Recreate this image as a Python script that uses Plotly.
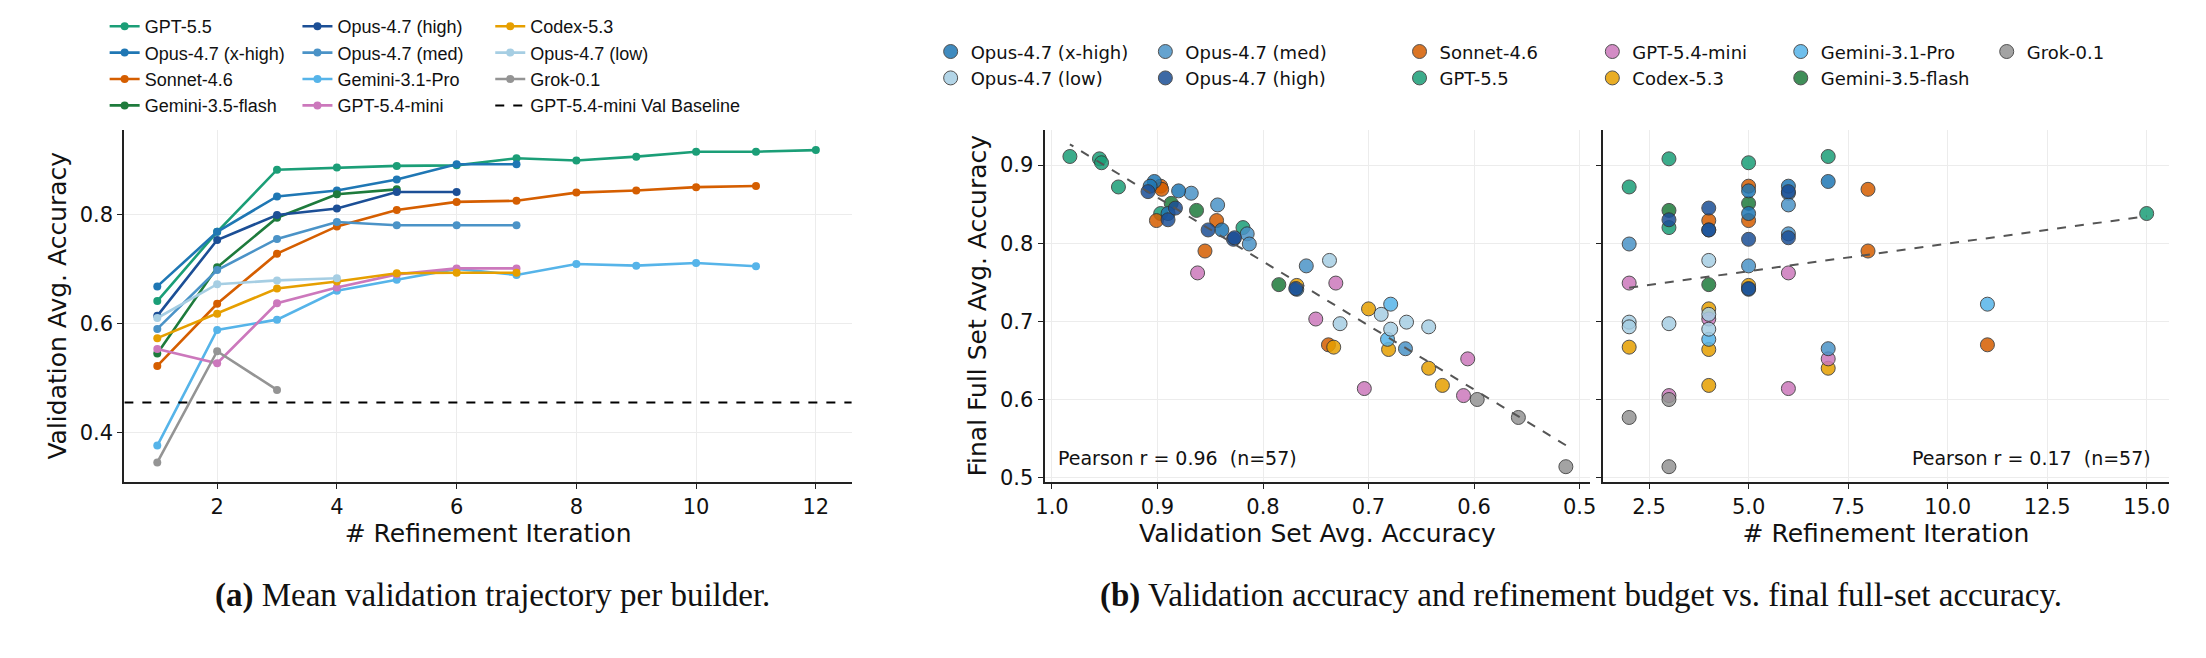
import numpy as np
import plotly
import plotly.subplots
import plotly.graph_objs as go

builders = ["GPT-5.5", "Opus-4.7 (x-high)", "Sonnet-4.6", "Gemini-3.5-flash",
            "Opus-4.7 (high)", "Opus-4.7 (med)", "Gemini-3.1-Pro", "GPT-5.4-mini",
            "Codex-5.3", "Opus-4.7 (low)", "Grok-0.1"]
colors = {
    "GPT-5.5": "#1b9e77", "Opus-4.7 (x-high)": "#1f77b4", "Sonnet-4.6": "#d55e00",
    "Gemini-3.5-flash": "#1e7b3c", "Opus-4.7 (high)": "#1c4f96", "Opus-4.7 (med)": "#4b93c7",
    "Gemini-3.1-Pro": "#56b4e9", "GPT-5.4-mini": "#cc78bc", "Codex-5.3": "#e69f00",
    "Opus-4.7 (low)": "#a6cee3", "Grok-0.1": "#949494",
}

# mean validation accuracy per refinement iteration (starting at 1)
trajectories = {
    "GPT-5.5": [0.641, 0.768, 0.882, 0.886, 0.889, 0.890, 0.903, 0.899, 0.906, 0.915, 0.915, 0.918],
    "Opus-4.7 (x-high)": [0.668, 0.768, 0.833, 0.844, 0.864, 0.892, 0.892],
    "Sonnet-4.6": [0.522, 0.636, 0.728, 0.778, 0.808, 0.823, 0.825, 0.840, 0.844, 0.850, 0.852],
    "Gemini-3.5-flash": [0.545, 0.703, 0.794, 0.837, 0.846],
    "Opus-4.7 (high)": [0.614, 0.753, 0.799, 0.811, 0.841, 0.841],
    "Opus-4.7 (med)": [0.590, 0.698, 0.755, 0.786, 0.780, 0.780, 0.780],
    "Gemini-3.1-Pro": [0.376, 0.588, 0.607, 0.660, 0.680, 0.700, 0.689, 0.709, 0.706, 0.711, 0.705],
    "GPT-5.4-mini": [0.553, 0.527, 0.637, 0.666, 0.690, 0.701, 0.701],
    "Codex-5.3": [0.573, 0.618, 0.664, 0.677, 0.692, 0.693, 0.693],
    "Opus-4.7 (low)": [0.610, 0.672, 0.679, 0.683],
    "Grok-0.1": [0.345, 0.549, 0.478],
}
baseline = 0.455

# per run: validation accuracy, final full-set accuracy, refinement iterations
val_acc = {
    "GPT-5.5": [0.983, 0.955, 0.953, 0.937, 0.897, 0.819],
    "Gemini-3.5-flash": [0.887, 0.863, 0.785],
    "Sonnet-4.6": [0.897, 0.896, 0.901, 0.844, 0.855, 0.738],
    "Codex-5.3": [0.768, 0.733, 0.700, 0.681, 0.643, 0.630],
    "GPT-5.4-mini": [0.862, 0.750, 0.731, 0.704, 0.606, 0.610],
    "Grok-0.1": [0.597, 0.558, 0.513],
    "Gemini-3.1-Pro": [0.679, 0.682],
    "Opus-4.7 (low)": [0.737, 0.727, 0.688, 0.679, 0.664, 0.643],
    "Opus-4.7 (med)": [0.868, 0.843, 0.815, 0.813, 0.759, 0.665],
    "Opus-4.7 (x-high)": [0.903, 0.907, 0.880, 0.890, 0.839, 0.768],
    "Opus-4.7 (high)": [0.909, 0.883, 0.890, 0.852, 0.828, 0.827, 0.769],
}
full_acc = {
    "GPT-5.5": [0.911, 0.908, 0.903, 0.872, 0.838, 0.820],
    "Gemini-3.5-flash": [0.851, 0.842, 0.747],
    "Sonnet-4.6": [0.873, 0.869, 0.829, 0.829, 0.790, 0.670],
    "Codex-5.3": [0.746, 0.667, 0.716, 0.664, 0.640, 0.618],
    "GPT-5.4-mini": [0.762, 0.703, 0.749, 0.614, 0.652, 0.605],
    "Grok-0.1": [0.600, 0.577, 0.514],
    "Gemini-3.1-Pro": [0.722, 0.677],
    "Opus-4.7 (low)": [0.778, 0.697, 0.709, 0.690, 0.699, 0.693],
    "Opus-4.7 (med)": [0.864, 0.849, 0.812, 0.799, 0.771, 0.665],
    "Opus-4.7 (x-high)": [0.879, 0.873, 0.867, 0.838, 0.817, 0.741],
    "Opus-4.7 (high)": [0.866, 0.845, 0.830, 0.817, 0.805, 0.807, 0.742],
}
iterations = {
    "GPT-5.5": [7, 3, 5, 2, 15, 3],
    "Gemini-3.5-flash": [5, 3, 4],
    "Sonnet-4.6": [5, 8, 4, 5, 8, 11],
    "Codex-5.3": [5, 2, 4, 4, 7, 4],
    "GPT-5.4-mini": [6, 4, 2, 6, 7, 3],
    "Grok-0.1": [3, 2, 3],
    "Gemini-3.1-Pro": [11, 4],
    "Opus-4.7 (low)": [4, 3, 4, 4, 2, 2],
    "Opus-4.7 (med)": [6, 6, 6, 2, 5, 7],
    "Opus-4.7 (x-high)": [7, 6, 5, 5, 4, 5],
    "Opus-4.7 (high)": [6, 4, 3, 4, 5, 6, 5],
}

left_columns = [["GPT-5.5", "Opus-4.7 (x-high)", "Sonnet-4.6", "Gemini-3.5-flash"],
                ["Opus-4.7 (high)", "Opus-4.7 (med)", "Gemini-3.1-Pro", "GPT-5.4-mini"],
                ["Codex-5.3", "Opus-4.7 (low)", "Grok-0.1", "baseline"]]
right_columns = [["Opus-4.7 (x-high)", "Opus-4.7 (low)"], ["Opus-4.7 (med)", "Opus-4.7 (high)"],
                 ["Sonnet-4.6", "GPT-5.5"], ["GPT-5.4-mini", "Codex-5.3"],
                 ["Gemini-3.1-Pro", "Gemini-3.5-flash"], ["Grok-0.1"]]
left_x = [0.040, 0.128, 0.216]
right_x = [0.417, 0.515, 0.631, 0.719, 0.805, 0.899]

FONT = "DejaVu Sans"
LEGEND_FONT = "Liberation Sans"


def legend_name(columns, name, offset):
    """Which legend a builder goes to"""
    for i, col in enumerate(columns):
        if name in col:
            return "legend" if i + offset == 0 else "legend%d" % (i + offset + 1)


def build():
    figure = plotly.subplots.make_subplots(rows=1, cols=3)
    # (a) trajectories
    for name in builders:
        y = trajectories[name]
        figure.add_trace(go.Scatter(x=list(range(1, len(y) + 1)), y=y, mode="lines+markers",
                                    name=name, line=dict(color=colors[name], width=2.6),
                                    marker=dict(size=8, color=colors[name]),
                                    legend=legend_name(left_columns, name, 0),
                                    legendrank=left_columns[[name in c for c in left_columns].index(True)].index(name)),
                         row=1, col=1)
    figure.add_trace(go.Scatter(x=[0.45, 12.6], y=[baseline, baseline], mode="lines",
                                name="GPT-5.4-mini Val Baseline", line=dict(color="black", width=2, dash="dash"),
                                legend="legend3", legendrank=3), row=1, col=1)
    # (b) scatters
    all_val, all_full, all_it = [], [], []
    for name in val_acc:
        lg = legend_name(right_columns, name, 3)
        rank = right_columns[[name in c for c in right_columns].index(True)].index(name)
        mk = dict(size=14, color=colors[name], opacity=0.85, line=dict(color="#333333", width=1))
        figure.add_trace(go.Scatter(x=val_acc[name], y=full_acc[name], mode="markers", name=name,
                                    marker=mk, legend=lg, legendrank=rank), row=1, col=2)
        figure.add_trace(go.Scatter(x=iterations[name], y=full_acc[name], mode="markers", name=name,
                                    marker=mk, showlegend=False), row=1, col=3)
        all_val += val_acc[name]
        all_full += full_acc[name]
        all_it += iterations[name]
    for col, xs, lo, hi in [(2, all_val, min(all_val), max(all_val)), (3, all_it, 2, 15)]:
        k, b = np.polyfit(xs, all_full, 1)
        figure.add_trace(go.Scatter(x=[lo, hi], y=[k * lo + b, k * hi + b], mode="lines", showlegend=False,
                                    line=dict(color="#555555", width=2, dash="dash")), row=1, col=col)

    axis = dict(showline=True, linecolor="#222222", linewidth=2, ticks="outside", ticklen=5,
                tickcolor="#222222", showgrid=True, gridcolor="#ececec", zeroline=False,
                tickfont=dict(size=21, color="#111111"), mirror=False)
    title_font = dict(size=25)
    figure.update_xaxes(**axis)
    figure.update_yaxes(**axis)
    figure.update_xaxes(domain=[0.049, 0.381], range=[0.45, 12.6], tickvals=[2, 4, 6, 8, 10, 12],
                        title=dict(text="# Refinement Iteration", font=title_font, standoff=4), row=1, col=1)
    figure.update_yaxes(domain=[0.274, 0.82], range=[0.31, 0.955], tickvals=[0.4, 0.6, 0.8],
                        title=dict(text="Validation Avg. Accuracy", font=title_font, standoff=6), row=1, col=1)
    figure.update_xaxes(domain=[0.469, 0.718], range=[1.007, 0.49], tickvals=[1.0, 0.9, 0.8, 0.7, 0.6, 0.5],
                        tickformat=".1f",
                        title=dict(text="Validation Set Avg. Accuracy", font=title_font, standoff=4), row=1, col=2)
    figure.update_yaxes(domain=[0.274, 0.82], range=[0.495, 0.945], tickvals=[0.5, 0.6, 0.7, 0.8, 0.9],
                        title=dict(text="Final Full Set Avg. Accuracy", font=title_font, standoff=6), row=1, col=2)
    figure.update_xaxes(domain=[0.724, 0.982], range=[1.35, 15.55], tickvals=[2.5, 5, 7.5, 10, 12.5, 15],
                        tickformat=".1f",
                        title=dict(text="# Refinement Iteration", font=title_font, standoff=4), row=1, col=3)
    figure.update_yaxes(domain=[0.274, 0.82], range=[0.495, 0.945], tickvals=[0.5, 0.6, 0.7, 0.8, 0.9],
                        showticklabels=False, row=1, col=3)

    legends = {}
    for i, x in enumerate(left_x):
        legends["legend" if i == 0 else "legend%d" % (i + 1)] = dict(x=x, y=1.01, yanchor="top",
                                                                      font=dict(size=18, family=LEGEND_FONT))
    for i, x in enumerate(right_x):
        legends["legend%d" % (i + 4)] = dict(x=x, y=0.97, yanchor="top", font=dict(size=18, family=FONT))
    for key, lg in legends.items():
        lg.update(xanchor="left", bgcolor="rgba(0,0,0,0)", tracegroupgap=0, itemwidth=30)
        figure.update_layout(**{key: lg})

    figure.add_annotation(x=0.474, y=0.29, xref="paper", yref="paper", xanchor="left", yanchor="bottom",
                          text="Pearson r = 0.96  (n=57)", showarrow=False, font=dict(size=19, color="#111111"))
    figure.add_annotation(x=0.975, y=0.29, xref="paper", yref="paper", xanchor="right", yanchor="bottom",
                          text="Pearson r = 0.17  (n=57)", showarrow=False, font=dict(size=19, color="#111111"))
    cap = dict(family="Liberation Serif", size=33, color="#111111")
    figure.add_annotation(x=0.217, y=0.065, xref="paper", yref="paper", xanchor="center", showarrow=False,
                          font=cap, text="<b>(a)</b> Mean validation trajectory per builder.")
    figure.add_annotation(x=0.714, y=0.065, xref="paper", yref="paper", xanchor="center", showarrow=False,
                          font=cap,
                          text="<b>(b)</b> Validation accuracy and refinement budget vs. final full-set accuracy.")

    figure.update_layout(width=2206, height=658, margin=dict(l=0, r=0, t=0, b=0),
                         plot_bgcolor="white", paper_bgcolor="white",
                         font=dict(family=FONT, color="#111111"))
    figure.write_html("out.html")


build()
